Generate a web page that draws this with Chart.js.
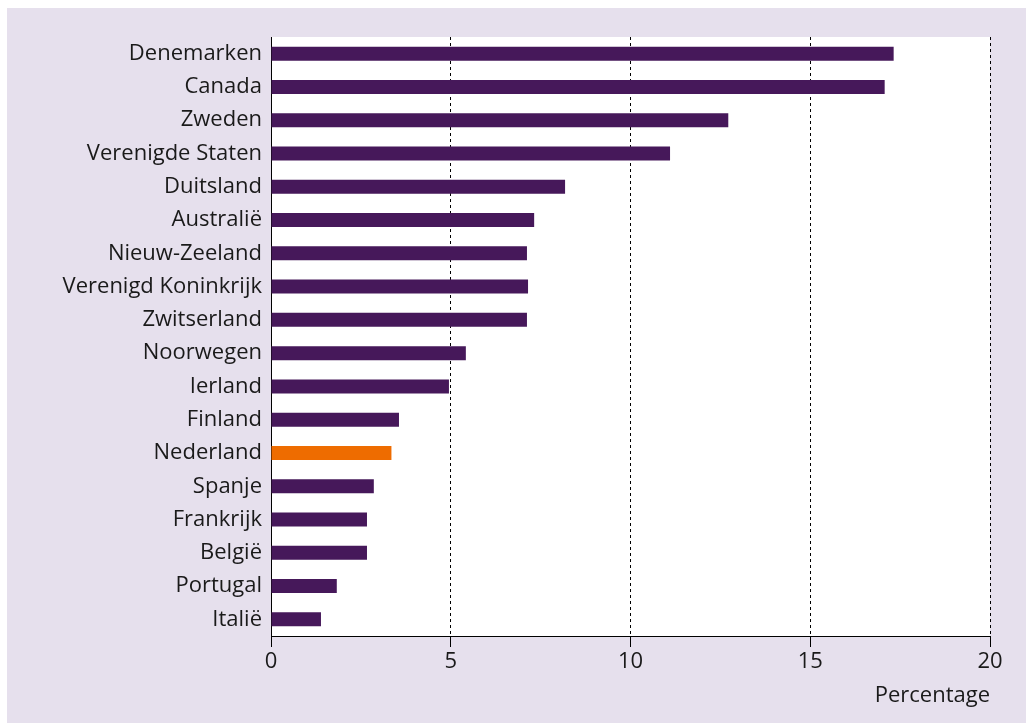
<!DOCTYPE html>
<html>
<head>
<meta charset="utf-8">
<script src="https://cdn.jsdelivr.net/npm/chart.js@4/dist/chart.umd.min.js"></script>
<style>
  html, body { margin: 0; padding: 0; background: #ffffff; }
  #box { position: absolute; left: 7px; top: 8px; width: 1019px; height: 715px; background: #e6e0ed; }
  canvas { display: block; }
</style>
</head>
<body>
<div id="box"><canvas id="c" width="1019" height="715"></canvas></div>
<script>
const countries = ["Denemarken", "Canada", "Zweden", "Verenigde Staten", "Duitsland", "Australië",
  "Nieuw-Zeeland", "Verenigd Koninkrijk", "Zwitserland", "Noorwegen", "Ierland", "Finland",
  "Nederland", "Spanje", "Frankrijk", "België", "Portugal", "Italië"];
const percentages = [17.32, 17.07, 12.72, 11.1, 8.18, 7.32, 7.12, 7.15, 7.12, 5.42, 4.95, 3.56,
  3.35, 2.86, 2.67, 2.67, 1.83, 1.39];
const highlight = "Nederland";
const xTicks = [0, 5, 10, 15, 20];
const axisTitle = "Percentage";

const purple = "#46185a";
const orange = "#ee6c00";
const FONT = "'Open Sans', 'Noto Sans', sans-serif";

const whiteArea = {
  id: 'whiteArea',
  beforeDraw(chart) {
    const {ctx, chartArea: a} = chart;
    ctx.save();
    ctx.fillStyle = '#ffffff';
    ctx.fillRect(a.left, a.top, a.right - a.left, a.bottom - a.top);
    ctx.restore();
  }
};

new Chart(document.getElementById('c'), {
  type: 'bar',
  data: {
    labels: countries,
    datasets: [{
      data: percentages,
      backgroundColor: countries.map(c => c === highlight ? orange : purple),
      barPercentage: 0.84,
      categoryPercentage: 0.5,
      borderWidth: 0
    }]
  },
  options: {
    indexAxis: 'y',
    responsive: false,
    animation: false,
    layout: { padding: { top: 29, right: 36, bottom: 0, left: 0 } },
    plugins: { legend: { display: false }, tooltip: { enabled: false } },
    scales: {
      x: {
        min: 0, max: 20,
        afterBuildTicks(scale) { scale.ticks = xTicks.map(v => ({ value: v })); },
        afterFit(scale) { scale.height = 87; },
        grid: {
          color: '#000000',
          lineWidth: 1,
          drawTicks: true,
          tickLength: 11,
          tickColor: '#000000',
          tickBorderDash: [],
          tickWidth: 1
        },
        border: { display: true, color: '#000000', width: 1, dash: [3, 3] },
        ticks: { color: '#1a1a1a', font: { family: FONT, size: 22 }, padding: 2, maxRotation: 0 },
        title: {
          display: true, text: axisTitle, align: 'end', color: '#1a1a1a',
          font: { family: FONT, size: 22 }, padding: { top: 0, bottom: 14 }
        }
      },
      y: {
        afterFit(scale) { scale.width = 264; },
        grid: { display: false, drawTicks: false },
        border: { display: true, color: '#000000', width: 1 },
        ticks: { color: '#1a1a1a', font: { family: FONT, size: 22 }, padding: 9, autoSkip: false }
      }
    }
  },
  plugins: [whiteArea]
});
</script>
</body>
</html>
